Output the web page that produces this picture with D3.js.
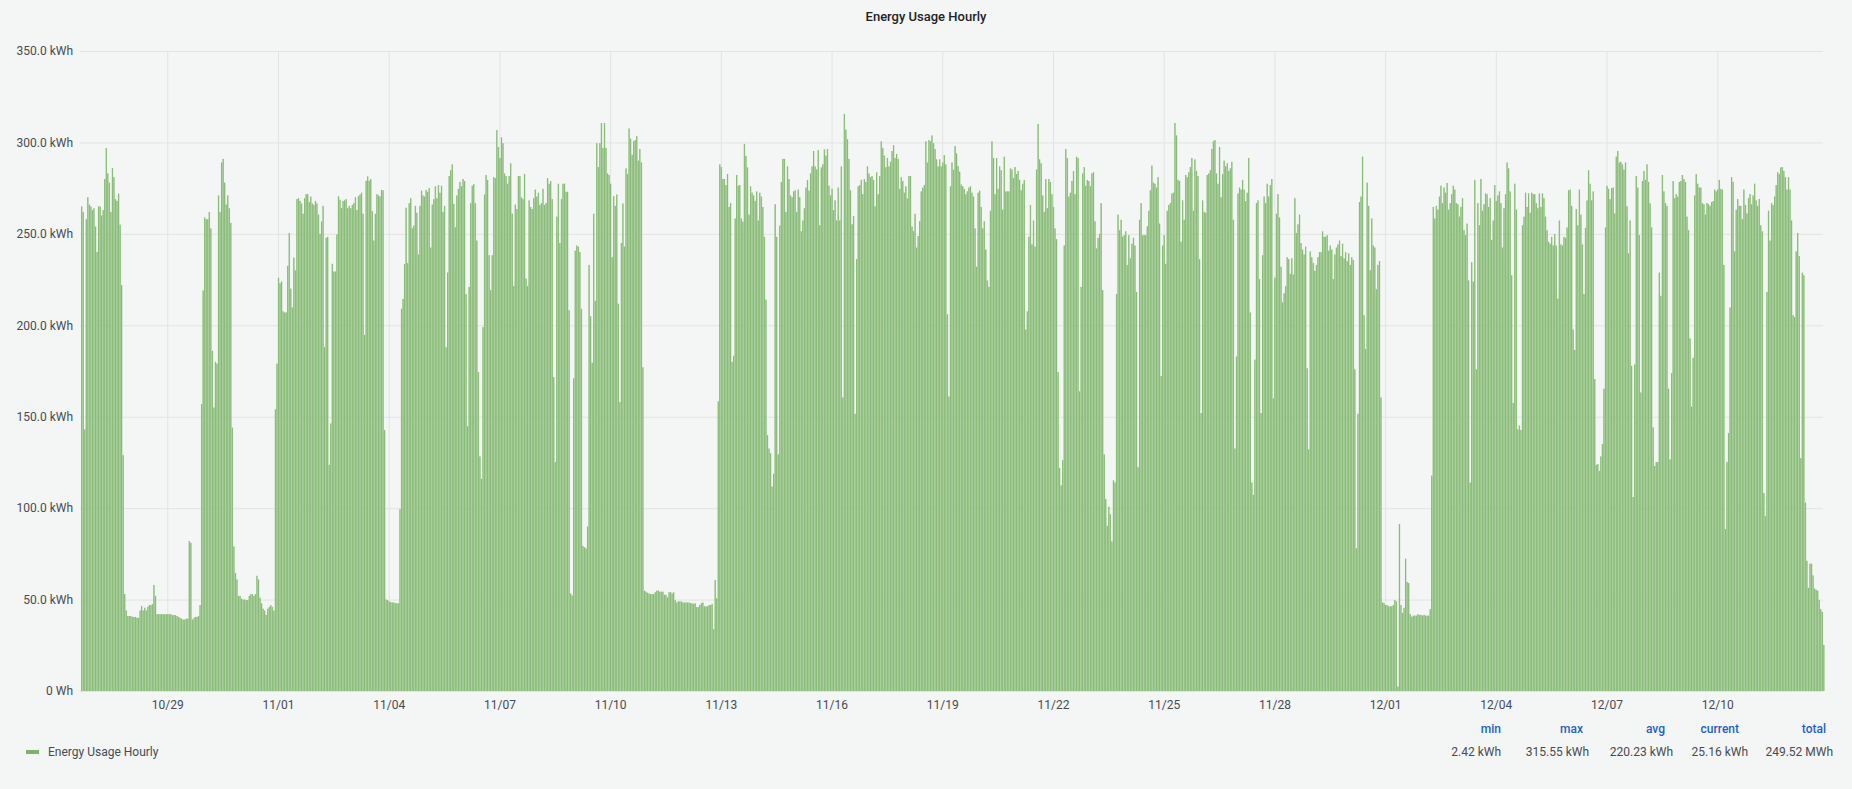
<!DOCTYPE html>
<html>
<head>
<meta charset="utf-8">
<script src="https://cdn.jsdelivr.net/npm/d3@7"></script>
<style>
  html, body { margin: 0; padding: 0; background: #f4f5f5; }
  svg { display: block; font-family: Roboto, "Noto Sans", sans-serif; }
</style>
</head>
<body>
<svg id="chart" width="1852" height="789"></svg>
<script>
// ---- Data: hourly energy usage (kWh), one array per calendar day ----
const startTime = new Date(2023, 9, 26, 16); // first bar: 10/26 16:00
const oct26 = [265,262,143,258,270,266,265,263];
const oct27 = [264,254,240,265,265,260,263,280,297,283,278,262,286,281,269,268,272,255,222,129,53,44,41,41];
const oct28 = [41,40.5,40.5,40.5,40,40,44,46.5,44,45.5,44,46,47,47,47.5,58,52,42,42,42,42,42,42,42];
const oct29 = [42,42,42,41.5,41.5,41.5,41,40.5,40,39.5,39,39,39.5,39.5,82,81,39,40,40.5,40.5,41,47,157,219];
const oct30 = [259,258,258,262,253,186,155,180,179,271,262,289,291,278,266,271,264,256,144,79,64.5,61,52,52];
const oct31 = [50.5,50,50,49.7,49.7,52,53,53,52,53,63,61,51,48,45,44,41.6,45,46,47,46,44,154,179];
const nov01 = [226,223,224,207.6,207,207,232.5,250.5,220,209.7,237,230,269,269.5,268,266.6,261,269.5,271.7,271.7,267.4,270.4,266.6,265.8];
const nov02 = [268,266.6,260.5,250,256.7,265.3,188,247.8,248.4,123.7,146.3,233.6,229.4,229.4,249.7,270.6,268.7,264,268,268.3,269,264,265.3,264];
const nov03 = [265.8,266.8,270,263,270.6,271.5,272.5,261,194.7,279,281.4,279,280,262.4,246.3,261,271.7,271,270.4,274,273.8,142.7,50,49.7];
const nov04 = [49,48.6,48.4,48.4,48,48,48,99.4,209,214.4,233.4,264.3,234,266.8,269.5,253,254.5,265.3,261.5,238.7,265.3,273.6,271,270.4];
const nov05 = [274,273,275,242.5,266,269,276,269.5,276.7,272.5,276.3,262,265.3,188,228.8,281.6,284.8,288,266.4,253.7,271,274.6,278.4,276];
const nov06 = [280,278.9,217,144.8,221,266.8,276.3,277.2,266.8,246.3,174.4,128.3,116,199,271.5,282.2,279.5,238.3,219.2,238.3,281,280.5,306.8,297.5];
const nov07 = [291.5,302.7,299.6,283,281.6,277.4,281.6,288.6,261,221.4,266,263.6,281.6,281.6,270,269,282.7,225.6,221.4,268.3,264.7,263.6,269.5,274.2];
const nov08 = [270.4,272.5,265.8,266.8,274.6,265.8,266.8,280.5,277.4,278.9,269,171.7,125.2,259.4,277.4,245,269,277.4,277.4,273,273,208.2,53.3,52.2];
const nov09 = [171,240.8,243.6,243,240,209,79.3,78.6,78,89.9,233,204.9,179.5,261,213.3,299.6,286.5,299.6,310.6,297,310.6,297,283,282.2];
const nov10 = [277.4,237.2,270.6,265.3,271.5,211.8,158,245,266.6,243,285.8,282.7,307.6,302,293.2,300.6,301.3,303.4,290,296.4,289,177,54.8,54.3];
const nov11 = [53.7,53.3,53,53,53,54,54.8,55,54.3,54.3,54.3,52.6,52.6,51.2,54,54,53.3,54,49.7,48.4,49,49,49,48.4];
const nov12 = [48.4,48.4,48.4,48.4,48,48,47.6,48,45.9,45.9,47,48,48.4,46.3,46.3,46.3,47,47,47.6,33.8,60.7,50.7,158.4,288];
const nov13 = [286.5,280,280,276.7,282.7,264.7,266.8,180,183.3,258.4,282.2,276.3,276.7,258.4,256.7,299.2,292.6,286.3,260.5,276,272.5,271,268,273.2];
const nov14 = [257.3,272.5,270.4,264.7,248.4,214,140,132.6,130,111.8,118.8,266.2,248.4,129.4,254.5,278.4,291,291,262,286.9,280,271,270,273.2];
const nov15 = [273.8,262,274.2,270,251.4,257.3,264,275.3,279.5,273.6,283,286.9,295.3,286.9,285.2,295.8,254.8,286.3,288,296.2,292.8,296.4,276.3,271];
const nov16 = [274.6,263,268.3,257.3,275.3,257.3,286.9,160.5,315.55,307,301.7,291,273.8,255.2,259.8,151.6,236.2,276,276.7,279.5,271.7,280,278.4,286.9];
const nov17 = [283,281,281.6,279.5,265.1,283.7,271.7,281.6,300.6,297,292.8,286.5,291.5,286.9,289.4,295.3,298.5,291.5,293.7,291,274.6,281,278.9,272.5];
const nov18 = [276,269.3,281.6,281.6,254,251.4,261,242.5,248.8,256.9,273.2,275.3,276.7,300.6,289,301.3,300.6,303.8,299.6,296.4,290.7,286.9,290.7,286.9];
const nov19 = [289,293,288,206,161,276,289,285,298,294,287,284,277,276,274.6,271.7,273.2,275.3,276,272.5,270.4,253,232,272.5];
const nov20 = [273.6,264.7,253,256.9,241.4,224.5,221,262.6,300.6,291.5,271.7,291.5,274.6,286.9,284.8,263.2,292.2,273.2,273.2,273.2,285.8,285.2,280.5,286.5];
const nov21 = [282.7,284.4,279.5,273.8,277.4,279.5,197.7,207.6,248.4,265.8,244.2,257.3,243,285.2,310.1,290.7,288.6,271,262,280,264,280,278.4,271.7];
const nov22 = [264.7,253,247.1,174.4,122,112.5,126.2,243.6,296.4,291.5,270.4,272.5,278.9,284.4,271.7,292.2,291.5,163.8,221,283,286.5,276.3,279.5,278.9];
const nov23 = [276,283,283.7,256.9,242,247.8,249.9,266.8,219.2,129.4,105,90.3,100.8,96.6,81.8,115.2,114,217.1,260.5,252,257.7,248.4,249.3,251.4];
const nov24 = [233,249.3,236.6,244.6,247.8,243.6,218.2,122.4,257.7,266.8,249.3,249.3,249.3,254.1,262.6,273.8,287.3,278,277.4,275.3,281,255.6,172.3,243.6];
const nov25 = [249.3,233.6,262.6,265.8,266.8,272.1,272.5,310.6,303.8,279.5,278.9,245.7,268.3,257.7,282.2,281,283.7,286.5,291.5,262.6,290.7,284.4,281.6,236.2];
const nov26 = [152,268.3,262,261.5,282.2,283,284.8,296.4,300.6,301.3,283,277.4,297.5,270,282.7,290,286.9,288.6,284.4,285.8,289.4,257.7,132.6,182.9];
const nov27 = [272.1,275.3,274.2,279.5,274.2,267.9,272.5,291.5,207,114,107.2,181.2,266.8,268.3,225.2,152,238.3,270.4,266.8,277.4,270.4,276.7,280,160];
const nov28 = [226,261,271.7,259,232,212.5,217.5,221.4,237.2,236.2,228.1,236.6,227.7,269.5,250.5,255.2,260.5,245,241.4,238.7,243,176.5,132.1,240.4];
const nov29 = [237.2,234,229.8,233,237.2,240,240,251.4,248.4,248.4,249.3,240.8,243.6,241.4,225.2,238.7,242.5,244.2,246.3,237.8,244.6,236.6,240,235.1];
const nov30 = [239.3,233,237.2,235.7,175.9,78,151.6,267.4,270.4,292.2,205.5,187.1,278,265.3,230.2,258.4,243.6,242.5,219.7,233,235.1,160.5,48.4,48];
const dec01 = [47,47,46.3,46.3,46.3,47,49.7,49,2.42,91.3,47,42.7,45.5,72.3,59.6,59,42,40.6,41.2,41.2,41.2,42,41.6,41.6];
const dec02 = [41.2,41.6,41.2,41.2,41.2,44.8,117.8,264.7,258.4,265.3,263.2,270.4,276.3,266.8,275.3,272.5,277.8,263.2,266.8,271.7,276.3,274.2,266.8,266.2];
const dec03 = [259.4,264.7,269.5,252,249.3,255.6,224.5,114,234.5,223.9,279.5,175.9,266.8,254.7,280,262.6,266.2,272.1,271.7,264.7,269.5,246.7,257.3,276.7];
const dec04 = [267.9,271,273.2,266.8,242.5,264,271.7,289,285.8,273.2,227.3,157.5,277.4,263.2,143.1,145.2,142.7,254.7,259.4,272.5,264.7,272.1,261.5,272.5];
const dec05 = [271.7,271.7,266.8,264,272.1,264.7,272.1,269.5,259.4,252,245.7,244.6,248.4,243.6,249.9,243.6,214.6,257.3,244.2,243.6,248.4,247.8,253.5,273.8];
const dec06 = [274.2,265.3,197.7,186.5,263.6,254.7,274.2,260.5,244.2,217.1,253.3,268.3,284.8,277.4,268.3,273.2,170.6,123.7,124.1,120.3,128.3,135.1,165.3,253.5];
const dec07 = [276.3,274.6,269,275.1,275.3,261.1,292.2,295.3,289,289.4,288,285.2,289,265.1,239.3,257.3,177.8,106.1,178.6,281.6,275.3,249.3,163.2,278.9];
const dec08 = [284.4,279.5,288,278.4,266.8,253.5,144.2,123,125.2,125.2,228.8,216.1,282.2,273.2,266.8,265.3,165.3,126.6,173.8,278.9,269.5,271.7,270.4,278.4];
const dec09 = [278.9,282.2,280,278.4,259.4,252,192.8,155.4,182.2,271,282.7,277.4,275.3,275.3,266.8,266.2,260.5,266.8,266.2,265.3,267.4,267.9,274.2,273.2];
const dec10 = [274.2,279.5,274.6,274.2,233,88.6,125.2,141,209.7,281,278.4,240.4,263.2,269,265.3,265.3,258.1,274.2,265.8,261.1,269.5,271.7,266.2,271];
const dec11 = [277.4,268.3,265.3,269.1,254.7,251.4,108.2,95.6,218.2,262.6,246.3,266.8,265.8,270.4,276.7,283.7,282.7,286.3,286.5,284.4,281,274.2,281,274.2];
const dec12 = [257.3,205.5,204.4,240.4,250.5,237.8,127.3,228.8,227.3,103,71.2,56.4,69.6,69.6,63.2,56,55.4,54.8,49.7,44.8,43.3,25.16];

const yTicks = [0, 50, 100, 150, 200, 250, 300, 350];
const xTickDates = ["10/29","11/01","11/04","11/07","11/10","11/13","11/16","11/19","11/22","11/25","11/28","12/01","12/04","12/07","12/10"];
const seriesName = "Energy Usage Hourly";
const legendHeaders = ["min", "max", "avg", "current", "total"];
const legendValues = ["2.42 kWh", "315.55 kWh", "220.23 kWh", "25.16 kWh", "249.52 MWh"];

(function draw() {
  const days = [oct26,oct27,oct28,oct29,oct30,oct31,nov01,nov02,nov03,nov04,nov05,nov06,nov07,nov08,nov09,nov10,
    nov11,nov12,nov13,nov14,nov15,nov16,nov17,nov18,nov19,nov20,nov21,nov22,nov23,nov24,nov25,nov26,nov27,nov28,
    nov29,nov30,dec01,dec02,dec03,dec04,dec05,dec06,dec07,dec08,dec09,dec10,dec11,dec12];
  const values = days.flat();
  const HOUR = 3600 * 1000;
  const data = values.map((v, i) => ({ t: new Date(startTime.getTime() + i * HOUR), v }));

  const pLeft = 81.2, pRight = 1824.9, pTop = 51, pBottom = 691;
  const x = d3.scaleTime()
    .domain([startTime, new Date(startTime.getTime() + values.length * HOUR)])
    .range([pLeft, pRight]);
  const y = d3.scaleLinear().domain([0, 350]).range([pBottom, pTop]);

  const svg = d3.select("#chart");
  const textColor = "#464c54";

  svg.append("text")
    .attr("x", 926).attr("y", 21)
    .attr("text-anchor", "middle")
    .attr("fill", "#202226")
    .attr("font-size", 13).attr("font-weight", 500)
    .text(seriesName);

  const gridRight = 1823;
  const yAxis = d3.axisLeft(y).tickValues(yTicks).tickSize(-(gridRight - 80)).tickPadding(7)
    .tickFormat(d => d === 0 ? "0 Wh" : d3.format(".1f")(d) + " kWh");
  const gy = svg.append("g").attr("transform", "translate(80,0)").call(yAxis);
  gy.select(".domain").remove();
  gy.selectAll(".tick line").attr("stroke", "#e3e3e3").attr("stroke-width", 1);
  gy.selectAll(".tick text").attr("fill", textColor).attr("font-size", 12).attr("font-family", "Roboto, sans-serif");

  const parse = d3.timeParse("%m/%d/%Y");
  const xTickValues = xTickDates.map(s => parse(s + "/2023"));
  const xAxis = d3.axisBottom(x).tickValues(xTickValues).tickSize(-(pBottom - pTop)).tickPadding(9)
    .tickFormat(d3.timeFormat("%m/%d"));
  const gx = svg.append("g").attr("transform", `translate(0,${pBottom})`).call(xAxis);
  gx.select(".domain").remove();
  gx.selectAll(".tick line").attr("stroke", "#e3e3e3").attr("stroke-width", 1);
  gx.selectAll(".tick text").attr("fill", textColor).attr("font-size", 12).attr("font-family", "Roboto, sans-serif");

  const bars = svg.append("g");
  bars.selectAll("rect.bar").data(data).join("rect")
    .attr("class", "bar")
    .attr("x", d => x(d.t))
    .attr("width", d => Math.max(0.8, (x(new Date(d.t.getTime() + HOUR)) - x(d.t)) * 0.8))
    .attr("y", d => y(d.v))
    .attr("height", d => pBottom - y(d.v))
    .attr("fill", "#a3d094");
  bars.selectAll("line.edge").data(data).join("line")
    .attr("class", "edge")
    .attr("x1", d => x(d.t) + 0.35).attr("x2", d => x(d.t) + 0.35)
    .attr("y1", d => y(d.v)).attr("y2", pBottom)
    .attr("stroke", "#78ae66").attr("stroke-width", 0.7);

  const lg = svg.append("g");
  lg.append("rect").attr("x", 26).attr("y", 750).attr("width", 13).attr("height", 4).attr("fill", "#7eb26d");
  lg.append("text").attr("x", 48).attr("y", 756).attr("fill", textColor).attr("font-size", 12).text(seriesName);

  const headRight = [1501, 1583, 1665, 1739, 1826];
  const valRight = [1501, 1589, 1673, 1748, 1833];
  legendHeaders.forEach((h, i) => {
    lg.append("text").attr("x", headRight[i]).attr("y", 733).attr("text-anchor", "end")
      .attr("fill", "#1f60c4").attr("font-size", 12).attr("font-weight", 500).text(h);
    lg.append("text").attr("x", valRight[i]).attr("y", 756).attr("text-anchor", "end")
      .attr("fill", textColor).attr("font-size", 12).text(legendValues[i]);
  });
})();
</script>
</body>
</html>
